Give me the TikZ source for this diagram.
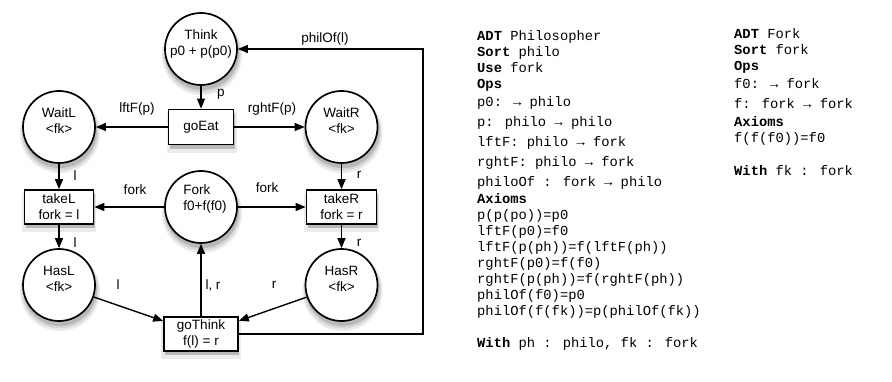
\documentclass[tikz,border=0pt]{standalone}
\usepackage{fontspec}
\setmainfont{Liberation Sans}
\newfontfamily\codefont{Liberation Mono}
\usetikzlibrary{arrows.meta}
\begin{document}
\begin{tikzpicture}[x=1pt,y=-1pt,
  every node/.style={font=\fontsize{13.5}{16}\selectfont},
  place/.style={circle,draw,line width=1.7pt,fill=white,minimum size=72pt,inner sep=0pt},
  trans/.style={rectangle,draw,line width=1.7pt,fill=white,inner sep=0pt,align=center},
  ctext/.style={align=center,inner sep=0pt,yshift=6pt},
  arc/.style={line width=1.4pt,-{Triangle[length=10pt,width=8pt]}},
  lbl/.style={inner sep=0pt},
  shA/.style={fill=black!8},
  shB/.style={fill=black!16},
  shC/.style={fill=black!28},
  code/.style={font=\codefont\fontsize{13.8}{16}\selectfont,align=left,inner sep=0pt,anchor=base west}
]
\fill[white] (0,0) rectangle (892,382);
\useasboundingbox (0,0) rectangle (892,382);

% soft shadows of the places
\fill[shA] (202,55) circle[radius=40];
\fill[shB] (202,54) circle[radius=38.5];
\fill[shC] (202,53) circle[radius=37];
\fill[shA] (60,133) circle[radius=40];
\fill[shB] (60,132) circle[radius=38.5];
\fill[shC] (60,131) circle[radius=37];
\fill[shA] (342.5,133) circle[radius=40];
\fill[shB] (342.5,132) circle[radius=38.5];
\fill[shC] (342.5,131) circle[radius=37];
\fill[shA] (202,213) circle[radius=40];
\fill[shB] (202,212) circle[radius=38.5];
\fill[shC] (202,211) circle[radius=37];
\fill[shA] (60,291) circle[radius=40];
\fill[shB] (60,290) circle[radius=38.5];
\fill[shC] (60,289) circle[radius=37];
\fill[shA] (342.5,291) circle[radius=40];
\fill[shB] (342.5,290) circle[radius=38.5];
\fill[shC] (342.5,289) circle[radius=37];
% soft shadows of the transitions
\fill[shA] (167,112) rectangle (237,153);
\fill[shC] (170,114) rectangle (235,149);
\fill[shA] (22,193) rectangle (96,232);
\fill[shC] (25.5,194) rectangle (94.5,228);
\fill[shA] (304,193) rectangle (379,232);
\fill[shC] (307.5,194) rectangle (377.5,228);
\fill[shA] (161,320) rectangle (241,359);
\fill[shC] (165,321) rectangle (239,355);

% places
\node[place,label={[ctext,yshift=-1pt]center:{Think\\p0 + p(p0)}}] (think) at (201,49) {};
\node[place,label={[ctext]center:{WaitL\\\textless fk\textgreater}}] (waitL) at (59,127) {};
\node[place,label={[ctext]center:{WaitR\\\textless fk\textgreater}}] (waitR) at (341.5,127) {};
\node[place,label={[ctext,align=left,xshift=4pt,yshift=2pt]center:{Fork\\f0+f(f0)}}] (fork) at (201,207) {};
\node[place,label={[ctext]center:{HasL\\\textless fk\textgreater}}] (hasL) at (59,285) {};
\node[place,label={[ctext]center:{HasR\\\textless fk\textgreater}}] (hasR) at (341.5,285) {};

% transitions
\node[trans,minimum width=65pt,minimum height=35pt] (goEat) at (201,127) {goEat};
\node[trans,minimum width=69pt,minimum height=34pt] (takeL) at (59,207) {takeL\\fork = l};
\node[trans,minimum width=70pt,minimum height=34pt] (takeR) at (341.5,207) {takeR\\fork = r};
\node[trans,minimum width=74pt,minimum height=34pt] (goThink) at (201,334) {goThink\\f(l) = r};
\coordinate (ret) at (423,49);

% arcs
\draw[arc] (think) -- (goEat);
\draw[arc] (goEat) -- (waitL);
\draw[arc] (goEat) -- (waitR);
\draw[arc] (waitL) -- (takeL);
\draw[arc] (waitR) -- (takeR);
\draw[arc] (takeL) -- (hasL);
\draw[arc] (takeR) -- (hasR);
\draw[arc] (fork) -- (takeL);
\draw[arc] (fork) -- (takeR);
\draw[arc] (hasL) -- (goThink);
\draw[arc] (hasR) -- (goThink);
\draw[arc] (goThink) -- (fork);
\draw[arc] (goThink.east) -| (ret) -- (think);

% arc labels
\node[lbl] (lp) at (221,94) {p};
\node[lbl] (llft) at (137,109) {lftF(p)};
\node[lbl] (lrght) at (272,109) {rghtF(p)};
\node[lbl] (lphil) at (325,39) {philOf(l)};
\node[lbl] (ll1) at (75,176) {l};
\node[lbl] (lr1) at (359,175) {r};
\node[lbl] (lfl) at (135,190) {fork};
\node[lbl] (lfr) at (267,188) {fork};
\node[lbl] (ll2) at (75,243) {l};
\node[lbl] (lr2) at (359,243) {r};
\node[lbl] (ll3) at (118,285) {l};
\node[lbl] (llr) at (213,285) {l, r};
\node[lbl] (lr3) at (274,285) {r};

% specifications (anchored at the baseline of the last line)
\node[code] (specP) at (477,347) {%
\textbf{ADT} Philosopher\\
\textbf{Sort} philo\\
\textbf{Use} fork\\
\textbf{Ops}\\[2pt]
p0: → philo\\[4pt]
p: philo → philo\\[4pt]
lftF: philo → fork\\[4pt]
rghtF: philo → fork\\[4pt]
philoOf : fork → philo\\[1pt]
\textbf{Axioms}\\
p(p(po))=p0\\
lftF(p0)=f0\\
lftF(p(ph))=f(lftF(ph))\\
rghtF(p0)=f(f0)\\
rghtF(p(ph))=f(rghtF(ph))\\
philOf(f0)=p0\\
philOf(f(fk))=p(philOf(fk))\\[16pt]
\textbf{With} ph : philo, fk : fork};
\node[code] (specF) at (734,176) {%
\textbf{ADT} Fork\\
\textbf{Sort} fork\\
\textbf{Ops}\\[2pt]
f0: → fork\\[4pt]
f: fork → fork\\[2pt]
\textbf{Axioms}\\
f(f(f0))=f0\\[17pt]
\textbf{With} fk : fork};
\end{tikzpicture}
\end{document}
